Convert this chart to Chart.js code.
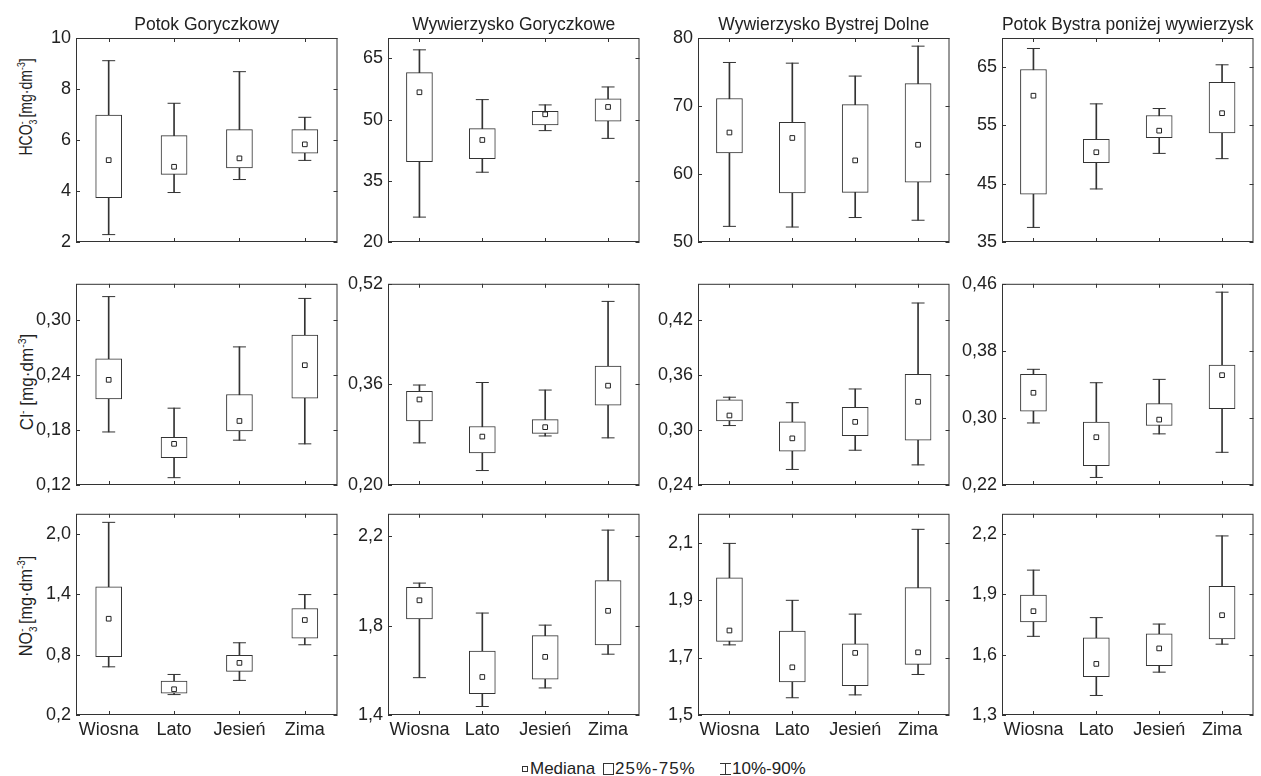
<!DOCTYPE html>
<html>
<head>
<meta charset="utf-8">
<script src="https://cdn.jsdelivr.net/npm/chart.js@4.4.1/dist/chart.umd.min.js"></script>
<style>
  body { margin: 0; background: #fff; width: 1261px; height: 776px; position: relative; overflow: hidden;
         font-family: "Liberation Sans", Arial, sans-serif; color: #222; }
  canvas { position: absolute; }
  .ytitle { position: absolute; white-space: nowrap; font-size: 18px; }
  .ytitle sub, .ytitle sup { font-size: 11px; }
  .lg { position: absolute; top: 759px; font-size: 17px; line-height: 20px; white-space: nowrap; }
  .mk { position: absolute; box-sizing: border-box; }
  .mk-med { left: 522px; top: 766px; width: 6px; height: 6px; border: 1px solid #333; }
  .mk-box { left: 603px; top: 763px; width: 11px; height: 12px; border: 1px solid #333; }
  .mk-whisk { left: 720px; top: 763px; width: 11px; height: 12px; border-top: 1px solid #333; border-bottom: 1px solid #333;
              background: linear-gradient(#333, #333) center / 1px 100% no-repeat; }
</style>
</head>
<body>
<div class="ytitle" style="left:27px;top:107px;transform:translate(-50%,-50%) rotate(-90deg) scaleX(0.78)">HCO<sub>3</sub><sup style="margin-left:-6px">-</sup> [mg·dm<sup>-3</sup>]</div>
<div class="ytitle" style="left:27px;top:382px;transform:translate(-50%,-50%) rotate(-90deg) scaleX(0.95)">Cl<sup>-</sup> [mg·dm<sup>-3</sup>]</div>
<div class="ytitle" style="left:27px;top:606px;transform:translate(-50%,-50%) rotate(-90deg) scaleX(0.9)">NO<sub>3</sub><sup style="margin-left:-6px">-</sup> [mg·dm<sup>-3</sup>]</div>

<span class="mk mk-med"></span><span class="lg" style="left:530px">Mediana</span>
<span class="mk mk-box"></span><span class="lg" style="left:615px;letter-spacing:1px">25%-75%</span>
<span class="mk mk-whisk"></span><span class="lg" style="left:732px">10%-90%</span>

<script>
const seasons = ['Wiosna', 'Lato', 'Jesień', 'Zima'];
const stations = ['Potok Goryczkowy', 'Wywierzysko Goryczkowe', 'Wywierzysko Bystrej Dolne', 'Potok Bystra poniżej wywierzysk'];

// HCO3 - one row per station, one value per season
const hco3Low  = [[2.29, 3.94, 4.45, 5.2], [26.1, 37.1, 47.3, 45.4], [52.3, 52.2, 53.6, 53.2], [37.5, 44.1, 50.2, 49.3]];
const hco3Q1   = [[3.74, 4.65, 4.91, 5.48], [39.7, 40.4, 48.7, 49.6], [63.1, 57.2, 57.3, 58.8], [43.2, 48.6, 52.9, 53.7]];
const hco3Med  = [[5.21, 4.95, 5.28, 5.83], [56.7, 45.0, 51.3, 53.1], [66.1, 65.3, 62.0, 64.3], [60.1, 50.4, 54.1, 57.1]];
const hco3Q3   = [[6.98, 6.17, 6.41, 6.41], [61.5, 47.8, 52.0, 55.1], [71.1, 67.6, 70.2, 73.3], [64.6, 52.6, 56.7, 62.4]];
const hco3High = [[9.11, 7.44, 8.68, 6.89], [67.1, 54.9, 53.6, 58.0], [76.4, 76.3, 74.4, 78.8], [68.2, 58.7, 57.9, 65.4]];
const hco3Range = [[2, 10], [20, 70], [50, 80], [35, 70]];
const hco3Ticks = [[2, 4, 6, 8, 10], [20, 35, 50, 65], [50, 60, 70, 80], [35, 45, 55, 65]];

// Cl
const clLow  = [[0.178, 0.128, 0.169, 0.165], [0.267, 0.223, 0.278, 0.275], [0.305, 0.257, 0.278, 0.262], [0.294, 0.229, 0.281, 0.259]];
const clQ1   = [[0.214, 0.150, 0.179, 0.215], [0.302, 0.251, 0.282, 0.327], [0.310, 0.277, 0.294, 0.289], [0.308, 0.243, 0.291, 0.311]];
const clMed  = [[0.235, 0.165, 0.190, 0.251], [0.336, 0.277, 0.292, 0.358], [0.316, 0.291, 0.309, 0.331], [0.330, 0.277, 0.298, 0.351]];
const clQ3   = [[0.258, 0.172, 0.219, 0.284], [0.349, 0.293, 0.304, 0.389], [0.333, 0.309, 0.325, 0.361], [0.352, 0.295, 0.317, 0.363]];
const clHigh = [[0.326, 0.204, 0.271, 0.324], [0.359, 0.363, 0.351, 0.492], [0.336, 0.330, 0.345, 0.439], [0.358, 0.342, 0.346, 0.450]];
const clRange = [[0.12, 0.34], [0.20, 0.52], [0.24, 0.46], [0.22, 0.46]];
const clTicks = [[0.12, 0.18, 0.24, 0.30], [0.20, 0.36, 0.52], [0.24, 0.30, 0.36, 0.42], [0.22, 0.30, 0.38, 0.46]];

// NO3
const no3Low  = [[0.679, 0.403, 0.544, 0.898], [1.567, 1.438, 1.521, 1.672], [1.744, 1.560, 1.570, 1.641], [1.691, 1.397, 1.513, 1.652]];
const no3Q1   = [[0.780, 0.416, 0.633, 0.964], [1.830, 1.495, 1.560, 1.714], [1.756, 1.615, 1.602, 1.676], [1.763, 1.490, 1.545, 1.678]];
const no3Med  = [[1.157, 0.456, 0.718, 1.144], [1.913, 1.570, 1.660, 1.866], [1.794, 1.666, 1.716, 1.718], [1.816, 1.554, 1.631, 1.796]];
const no3Q3   = [[1.475, 0.538, 0.793, 1.259], [1.971, 1.686, 1.755, 2.001], [1.977, 1.792, 1.748, 1.943], [1.896, 1.683, 1.703, 1.940]];
const no3High = [[2.115, 0.603, 0.918, 1.397], [1.990, 1.856, 1.802, 2.227], [2.097, 1.899, 1.851, 2.146], [2.020, 1.784, 1.752, 2.190]];
const no3Range = [[0.2, 2.2], [1.4, 2.3], [1.5, 2.2], [1.3, 2.3]];
const no3Ticks = [[0.2, 0.8, 1.4, 2.0], [1.4, 1.8, 2.2], [1.5, 1.7, 1.9, 2.1], [1.3, 1.6, 1.9, 2.2]];

const rows = [
  { low: hco3Low, q1: hco3Q1, med: hco3Med, q3: hco3Q3, high: hco3High, range: hco3Range, ticks: hco3Ticks, dec: 0 },
  { low: clLow, q1: clQ1, med: clMed, q3: clQ3, high: clHigh, range: clRange, ticks: clTicks, dec: 2 },
  { low: no3Low, q1: no3Q1, med: no3Med, q3: no3Q3, high: no3High, range: no3Range, ticks: no3Ticks, dec: 1 }
];

// plot area placement
const colLeft = [76, 388, 698, 1002];
const colWidth = [265, 255, 255, 255];
const rowTop = [38, 282, 512];
const rowHeight = [204, 203, 203];

const ink = '#333';
Chart.defaults.font.family = '"Liberation Sans", Arial, sans-serif';
Chart.defaults.color = '#222';

// frame with inward tick marks on all four sides
const framePlugin = {
  id: 'frame',
  afterDraw(chart) {
    const { ctx, chartArea: a, scales: { x, y } } = chart;
    ctx.save();
    ctx.strokeStyle = ink;
    ctx.lineWidth = 1;
    ctx.strokeRect(a.left + 0.5, a.top + 0.5, a.right - a.left - 1, a.bottom - a.top - 1);
    ctx.beginPath();
    y.ticks.forEach((t, i) => {
      const py = Math.round(y.getPixelForTick(i)) + 0.5;
      ctx.moveTo(a.left, py); ctx.lineTo(a.left + 4, py);
      ctx.moveTo(a.right, py); ctx.lineTo(a.right - 4, py);
    });
    x.ticks.forEach((t, i) => {
      const px = Math.round(x.getPixelForTick(i)) + 0.5;
      ctx.moveTo(px, a.top); ctx.lineTo(px, a.top + 4);
      ctx.moveTo(px, a.bottom); ctx.lineTo(px, a.bottom - 4);
    });
    ctx.stroke();
    ctx.restore();
  }
};

rows.forEach((row, r) => {
  stations.forEach((station, c) => {
    const yW = c === 0 ? 76 : 46;
    const topSpace = r === 0 ? 38 : 14;
    const xH = r === 2 ? 34 : 4;
    const padBottom = 12, padRight = 4;

    const canvas = document.createElement('canvas');
    canvas.width = yW + colWidth[c] + padRight;
    canvas.height = topSpace + rowHeight[r] + xH + padBottom;
    canvas.style.left = (colLeft[c] - yW) + 'px';
    canvas.style.top = (rowTop[r] - topSpace) + 'px';
    document.body.appendChild(canvas);

    const whisk = seasons.map((s, i) => [row.low[c][i], row.high[c][i]]);
    const box = seasons.map((s, i) => [row.q1[c][i], row.q3[c][i]]);

    new Chart(canvas, {
      type: 'bar',
      data: {
        labels: seasons,
        datasets: [
          { label: '10%-90%', data: whisk, grouped: false, barThickness: 1, backgroundColor: ink, borderWidth: 0, order: 3 },
          { label: '25%-75%', data: box, grouped: false, barThickness: 26, backgroundColor: '#fff',
            borderColor: ink, borderWidth: 1, borderSkipped: false, order: 2 },
          { type: 'line', label: 'low', data: row.low[c], showLine: false, pointStyle: 'line', pointRadius: 6.5,
            pointBorderColor: ink, pointBorderWidth: 1, order: 1 },
          { type: 'line', label: 'high', data: row.high[c], showLine: false, pointStyle: 'line', pointRadius: 6.5,
            pointBorderColor: ink, pointBorderWidth: 1, order: 1 },
          { type: 'line', label: 'Mediana', data: row.med[c], showLine: false, pointStyle: 'rect', pointRadius: 3.3,
            pointBackgroundColor: '#fff', pointBorderColor: '#222', pointBorderWidth: 1, order: 0 }
        ]
      },
      options: {
        responsive: false,
        animation: false,
        events: [],
        layout: { padding: { top: r === 0 ? 0 : topSpace, bottom: padBottom, left: 0, right: padRight } },
        scales: {
          x: {
            grid: { display: false, drawTicks: false },
            border: { display: false },
            ticks: { display: r === 2, font: { size: 18 }, padding: 4, maxRotation: 0, autoSkip: false },
            afterFit: s => { s.height = xH; }
          },
          y: {
            min: row.range[c][0],
            max: row.range[c][1],
            grid: { display: false, drawTicks: false },
            border: { display: false },
            ticks: {
              font: { size: 18 },
              padding: 5,
              callback: v => v.toFixed(row.dec).replace('.', ',')
            },
            afterBuildTicks: s => { s.ticks = row.ticks[c].map(v => ({ value: v })); },
            afterFit: s => { s.width = yW; }
          }
        },
        plugins: {
          legend: { display: false },
          tooltip: { enabled: false },
          title: {
            display: r === 0,
            text: station,
            fullSize: false,
            font: { size: 17.5, weight: 'normal' },
            color: '#222',
            padding: { top: 15, bottom: 2 }
          }
        }
      },
      plugins: [framePlugin]
    });
  });
});
</script>
</body>
</html>
